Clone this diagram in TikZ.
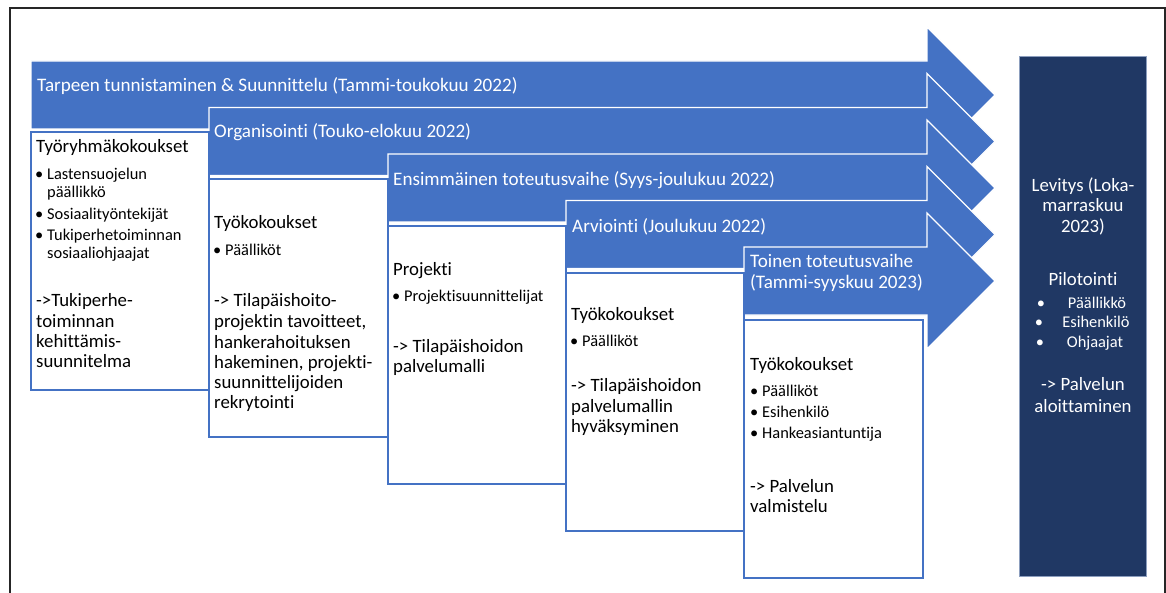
\documentclass[tikz,border=0pt]{standalone}
\usepackage{fontspec}
\setmainfont{Carlito}[Ligatures=NoCommon]
\definecolor{accent}{RGB}{68,114,196}
\definecolor{navy}{RGB}{32,56,100}
\definecolor{navyedge}{RGB}{140,158,190}
\newcommand\stagearrow[2]{\draw[arrowshape] (#1,#2-34) -- (927,#2-34) -- (927,#2-68) -- (995,#2) -- (927,#2+68) -- (927,#2+34) -- (#1,#2+34) -- cycle;}
\newcommand\bul{\llap{\textbullet\hspace{4pt}}}
\begin{document}
\begin{tikzpicture}[x=1pt,y=-1pt,
  arrowshape/.style={fill=accent, draw=white, line width=1.2pt, line join=miter},
  stagebox/.style={fill=white, draw=accent, line width=1.5pt},
  big/.style={font=\fontsize{18.8}{20}\selectfont, inner sep=0pt, anchor=base west},
  tbig/.style={font=\fontsize{19.1}{20}\selectfont, inner sep=0pt, anchor=base west, text=white},
  small/.style={font=\fontsize{16.4}{18}\selectfont, inner sep=0pt, anchor=base west},
  wbig/.style={tbig},
  cbig/.style={big, text=white, anchor=base},
  csmall/.style={small, text=white, anchor=base}]
\useasboundingbox (0,0) rectangle (1166,593);
\fill[white] (0,0) rectangle (1166,593);
\draw[black!85, line width=2pt] (10,594) -- (10,8) -- (1165,8) -- (1165,594);

% arrows
\stagearrow{31}{95}
\stagearrow{209}{141.5}
\stagearrow{388}{188}
\stagearrow{566}{234.5}
\stagearrow{744}{281}

% boxes
\draw[stagebox] (31,132) rectangle (209,390);
\draw[stagebox] (209,179) rectangle (388,437);
\draw[stagebox] (388,226) rectangle (566,484);
\draw[stagebox] (566,273) rectangle (744,531);
\draw[stagebox] (744,320) rectangle (923,578);

% dark box
\draw[fill=navy, draw=navyedge, line width=0.8pt] (1019,56) rectangle (1146,576);

% arrow titles
\node[wbig] (a1) at (37,92) {Tarpeen tunnistaminen \& Suunnittelu (Tammi-toukokuu 2022)};
\node[wbig] (a2) at (214,138) {Organisointi (Touko-elokuu 2022)};
\node[wbig] (a3) at (393,186) {Ensimmäinen toteutusvaihe (Syys-joulukuu 2022)};
\node[wbig] (a4) at (572,233) {Arviointi (Joulukuu 2022)};
\node[wbig] (a5a) at (750,268) {Toinen toteutusvaihe};
\node[wbig] (a5b) at (750,289) {(Tammi-syyskuu 2023)};

% box 1
\node[big] (b1h) at (36,153) {Työryhmäkokoukset};
\node[small] (b1i1) at (47,179.5) {\bul Lastensuojelun};
\node[small] (b1i1b) at (47,197.5) {päällikkö};
\node[small] (b1i2) at (47,219.5) {\bul Sosiaalityöntekijät};
\node[small] (b1i3) at (47,240.5) {\bul Tukiperhetoiminnan};
\node[small] (b1i3b) at (47,258.5) {sosiaaliohjaajat};
\node[big] (b1r1) at (36,307) {->Tukiperhe-};
\node[big] (b1r2) at (36,327) {toiminnan};
\node[big] (b1r3) at (36,347) {kehittämis-};
\node[big] (b1r4) at (36,367) {suunnitelma};

% box 2
\node[big] (b2h) at (214,229) {Työkokoukset};
\node[small] (b2i1) at (225,255.5) {\bul Päälliköt};
\node[big] (b2r1) at (214,307) {-> Tilapäishoito-};
\node[big] (b2r2) at (214,327) {projektin tavoitteet,};
\node[big] (b2r3) at (214,348) {hankerahoituksen};
\node[big] (b2r4) at (214,368) {hakeminen, projekti-};
\node[big] (b2r5) at (214,388) {suunnittelijoiden};
\node[big] (b2r6) at (214,408) {rekrytointi};

% box 3
\node[big] (b3h) at (393,276) {Projekti};
\node[small] (b3i1) at (404,301.5) {\bul Projektisuunnittelijat};
\node[big] (b3r1) at (393,352) {-> Tilapäishoidon};
\node[big] (b3r2) at (393,372) {palvelumalli};

% box 4
\node[big] (b4h) at (571,320) {Työkokoukset};
\node[small] (b4i1) at (582,346.5) {\bul Päälliköt};
\node[big] (b4r1) at (571,391) {-> Tilapäishoidon};
\node[big] (b4r2) at (571,412) {palvelumallin};
\node[big] (b4r3) at (571,432) {hyväksyminen};

% box 5
\node[big] (b5h) at (750,370) {Työkokoukset};
\node[small] (b5i1) at (762,396.5) {\bul Päälliköt};
\node[small] (b5i2) at (762,417.5) {\bul Esihenkilö};
\node[small] (b5i3) at (762,438.5) {\bul Hankeasiantuntija};
\node[big] (b5r1) at (750,492) {-> Palvelun};
\node[big] (b5r2) at (750,512) {valmistelu};

% dark box text
\node[cbig] (d1) at (1083,192) {Levitys (Loka-};
\node[cbig] (d2) at (1083,212) {marraskuu};
\node[cbig] (d3) at (1083,233) {2023)};
\node[cbig] (d4) at (1083,286) {Pilotointi};
\node[csmall] (d5b) at (1041,308.5) {\textbullet};
\node[csmall] (d5) at (1097,308.5) {Päällikkö};
\node[csmall] (d6b) at (1039,327.5) {\textbullet};
\node[csmall] (d6) at (1096,327.5) {Esihenkilö};
\node[csmall] (d7b) at (1040,347.5) {\textbullet};
\node[csmall] (d7) at (1095,347.5) {Ohjaajat};
\node[cbig] (d8) at (1083,390) {-> Palvelun};
\node[cbig] (d9) at (1083,412) {aloittaminen};
\end{tikzpicture}
\end{document}
